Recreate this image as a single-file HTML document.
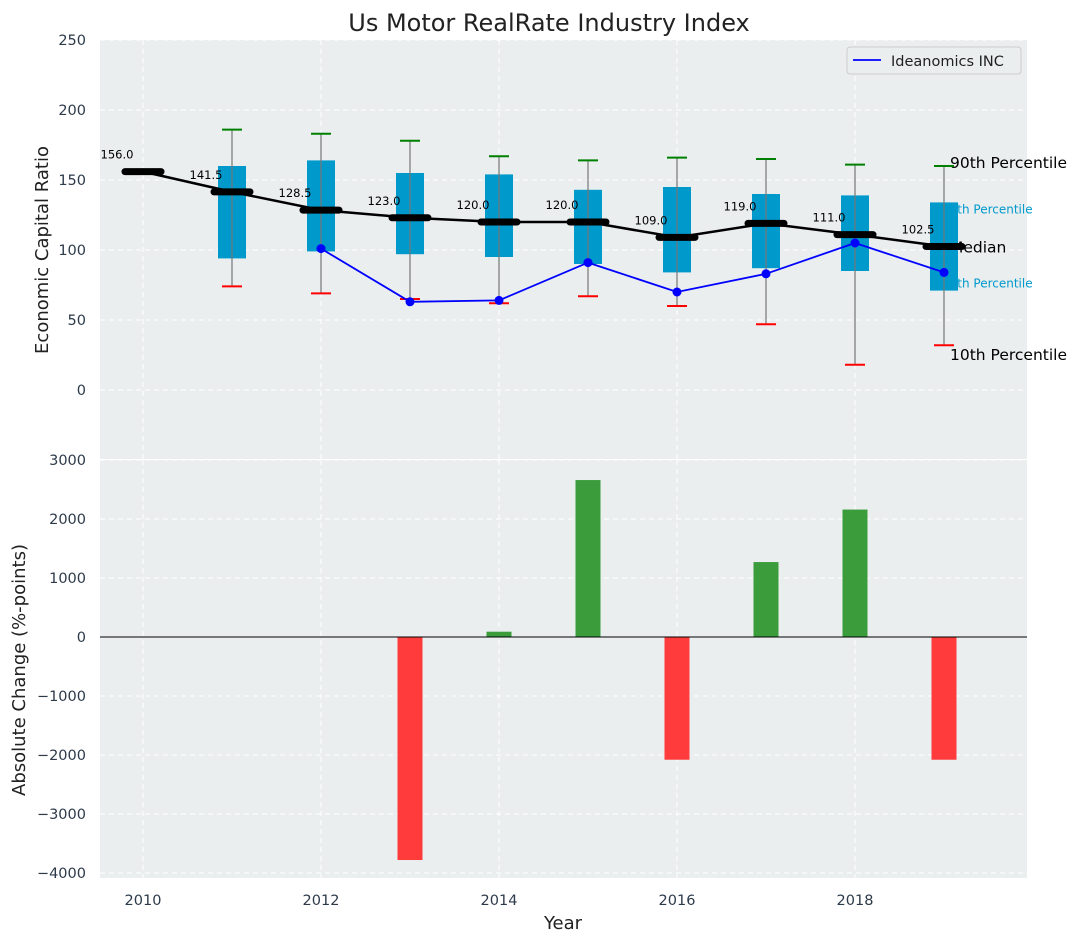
<!DOCTYPE html>
<html><head><meta charset="utf-8"><style>
body{margin:0;background:#fff;font-family:"DejaVu Sans","Liberation Sans",sans-serif;}
</style></head><body>
<svg width="1085" height="942" xmlns="http://www.w3.org/2000/svg" font-family="DejaVu Sans, Liberation Sans, sans-serif">
<g id="root"></g>
</svg>
<script>
const years=[2010,2011,2012,2013,2014,2015,2016,2017,2018,2019];
const medians=[156,141.5,128.5,123,120,120,109,119,111,102.5];
const q75=[null,160,164,155,154,143,145,140,139,134];
const q25=[null,94,99,97,95,90,84,87,85,71];
const p90=[null,186,183,178,167,164,166,165,161,160];
const p10=[null,74,69,65,62,67,60,47,18,32];
const companyYears=[2012,2013,2014,2015,2016,2017,2018,2019];
const companyVals=[101,63,64,91,70,83,105,84];
const barYears=[2013,2014,2015,2016,2017,2018,2019];
const barVals=[-3780,90,2660,-2080,1270,2160,-2080];
const topTicks=[0,50,100,150,200,250];
const botTicks=[-4000,-3000,-2000,-1000,0,1000,2000,3000];
const xTicks=[2010,2012,2014,2016,2018];

const NS='http://www.w3.org/2000/svg';
const root=document.getElementById('root');
function el(t,a,txt){const e=document.createElementNS(NS,t);for(const k in a)e.setAttribute(k,a[k]);if(txt!==undefined)e.textContent=txt;root.appendChild(e);return e;}
const X0=100,X1=1027;
const x=v=>143+(v-2010)*89;
const yT=v=>390-v*1.4;
const yB=v=>637-v*0.059;

let e;
e=el('rect',{x:X0,y:40,width:X1-X0,height:419,fill:'#eaeeef'});

e=el('rect',{x:X0,y:460,width:X1-X0,height:418,fill:'#eaeeef'});


topTicks.forEach(t=>{el('line',{x1:X0,x2:X1,y1:yT(t),y2:yT(t),stroke:'#fff','stroke-dasharray':'5,4','stroke-width':1});
 e=el('text',{x:86,y:yT(t)+5,'text-anchor':'end','font-size':14.5,fill:'#2d3a4a'},t);
 });
botTicks.forEach(t=>{el('line',{x1:X0,x2:X1,y1:yB(t),y2:yB(t),stroke:'#fff','stroke-dasharray':'5,4','stroke-width':1});
 e=el('text',{x:86,y:yB(t)+5,'text-anchor':'end','font-size':14.5,fill:'#2d3a4a'},t===0?'0':(t<0?'\u2212'+(-t):t));
 });
xTicks.forEach(t=>{el('line',{x1:x(t),x2:x(t),y1:40,y2:459,stroke:'#fff','stroke-dasharray':'5,4'});
 el('line',{x1:x(t),x2:x(t),y1:460,y2:878,stroke:'#fff','stroke-dasharray':'5,4'});
 e=el('text',{x:x(t),y:905,'text-anchor':'middle','font-size':14.5,fill:'#2d3a4a'},t);
 });

// right labels (drawn before boxes so the box overlaps them)
e=el('text',{x:950,y:yT(p90[9])+2,'font-size':15.5,fill:'#000'},'90th Percentile');
e=el('text',{x:942,y:yT(q75[9])+11,'font-size':12,fill:'#0099cc'},'75th Percentile');
e=el('text',{x:950,y:yT(medians[9])+6,'font-size':15.5,fill:'#000'},'Median');
e=el('text',{x:942,y:yT(q25[9])-3,'font-size':12,fill:'#0099cc'},'25th Percentile');
e=el('text',{x:950,y:yT(p10[9])+15,'font-size':15.5,fill:'#000'},'10th Percentile');

years.forEach((yr,i)=>{
 if(q75[i]==null)return;
 const cx=x(yr);
 e=el('rect',{x:cx-14,y:yT(q75[i]),width:28,height:yT(q25[i])-yT(q75[i]),fill:'#0099cc'});
 
 el('line',{x1:cx,x2:cx,y1:yT(p90[i]),y2:yT(p10[i]),stroke:'#777','stroke-width':1.2});
 el('line',{x1:cx-10,x2:cx+10,y1:yT(p90[i]),y2:yT(p90[i]),stroke:'green','stroke-width':2});
 el('line',{x1:cx-10,x2:cx+10,y1:yT(p10[i]),y2:yT(p10[i]),stroke:'red','stroke-width':2});
});
e=el('polyline',{points:years.map((y,i)=>x(y)+','+yT(medians[i])).join(' '),fill:'none',stroke:'#000','stroke-width':2.5});

years.forEach((yr,i)=>{
 el('line',{x1:x(yr)-18,x2:x(yr)+18,y1:yT(medians[i]),y2:yT(medians[i]),stroke:'#000','stroke-width':7,'stroke-linecap':'round'});
 e=el('text',{x:x(yr)-26,y:yT(medians[i])-13,'text-anchor':'middle','font-size':11.5,fill:'#000'},medians[i].toFixed(1));
 
});
e=el('polyline',{points:companyYears.map((y,i)=>x(y)+','+yT(companyVals[i])).join(' '),fill:'none',stroke:'blue','stroke-width':1.8});

companyYears.forEach((yr,i)=>{e=el('circle',{cx:x(yr),cy:yT(companyVals[i]),r:4.5,fill:'blue'});
 });

const bw=25;
barYears.forEach((yr,i)=>{const v=barVals[i];const y0=yB(Math.max(v,0)),y1=yB(Math.min(v,0));
 e=el('rect',{x:x(yr)-bw/2,y:y0,width:bw,height:y1-y0,fill:v>=0?'#3a9c3a':'#ff3b3b'});
 });
el('line',{x1:X0,x2:X1,y1:yB(0),y2:yB(0),stroke:'#000','stroke-width':1});

e=el('rect',{x:847,y:47,width:174,height:27,fill:'#eaeeef',stroke:'#ccc',rx:3});

el('line',{x1:853,x2:881,y1:60,y2:60,stroke:'blue','stroke-width':1.8});
e=el('text',{x:891,y:66,'font-size':14.5,fill:'#222'},'Ideanomics INC');

e=el('text',{x:549,y:31,'text-anchor':'middle','font-size':24,fill:'#222'},'Us Motor RealRate Industry Index');
e=el('text',{x:0,y:0,'text-anchor':'middle','font-size':18,fill:'#222',transform:'translate(48,250) rotate(-90)'},'Economic Capital Ratio');
e=el('text',{x:0,y:0,'text-anchor':'middle','font-size':18,fill:'#222',transform:'translate(25,670) rotate(-90)'},'Absolute Change (%-points)');
e=el('text',{x:563,y:929,'text-anchor':'middle','font-size':18,fill:'#222'},'Year');
</script>
</body></html>
